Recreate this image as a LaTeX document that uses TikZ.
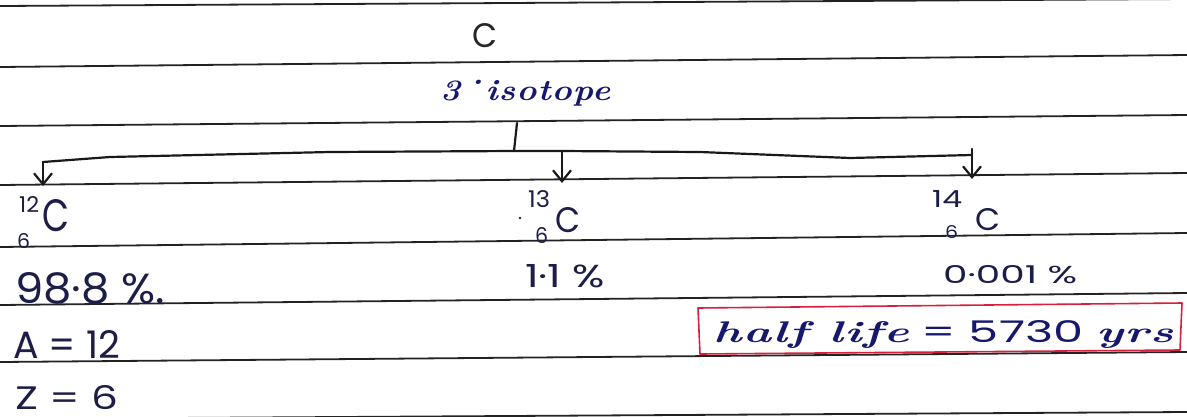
\documentclass[tikz,border=0pt]{standalone}
\usepackage{fontspec}
\usetikzlibrary{arrows.meta,calc}
\newfontfamily\hand{Poppins}
\newfontfamily\cursive[LetterSpace=3]{Latin Modern Roman}
\definecolor{ink}{RGB}{28,30,72}
\definecolor{blueink}{RGB}{22,24,110}
\definecolor{rule}{RGB}{35,35,35}
\definecolor{redink}{RGB}{214,32,62}
\newcommand\hw[3]{\resizebox{#1}{#2}{#3}}
\tikzset{
  txt/.style={inner sep=0pt, anchor=base west, text=ink, font=\hand},
  ruled/.style={draw=rule, line width=1.8pt},
  bracket/.style={draw=black!90, line width=2.2pt, line join=round, line cap=round},
  arr/.style={bracket, -{Straight Barb[length=11pt,width=18pt,line width=2.2pt]}},
  redbox/.style={draw=redink, line width=1.6pt, line join=round}
}
\begin{document}
\begin{tikzpicture}[x=1pt,y=-1pt]
\useasboundingbox (0,0) rectangle (1187,416);
\fill[white] (0,0) rectangle (1187,416);
% ruled lines
\draw[ruled] (0,6) -- (1187,-1);
\draw[ruled] (0,67) -- (1187,55);
\draw[ruled] (0,126) -- (1187,115);
\draw[ruled] (0,185) -- (1187,173);
\draw[ruled] (0,247) -- (1187,233);
\draw[ruled] (0,305) -- (1187,293);
\draw[ruled] (0,362) -- (1187,352);
\draw[ruled] (0,419) -- (1187,412);
% headings
\node[txt, text=black!85] (ctop) at (472,47) {\hw{25pt}{24pt}{C}};
\node[txt, text=blueink, font=\cursive\bfseries\itshape] (iso) at (440,100) {\hw{170pt}{20pt}{3\smash{\raisebox{0.25em}{\textperiodcentered}}\kern-0.15em isotope}};
% bracket
\coordinate (stub) at (517,123);
\coordinate (j) at (514,151);
\coordinate (l) at (43,162);
\coordinate (m) at (562,151);
\coordinate (r) at (972,155);
\coordinate (rtop) at (972,149);
\coordinate (l12) at (43,186);
\coordinate (m13) at (562,183);
\coordinate (r14) at (972,179);
\draw[bracket] (stub) -- (j);
\draw[bracket] (l) -- (110,157) -- (330,152) -- (j) -- (m) -- (700,152) -- (850,158) -- (r);
\draw[arr] (l) -- (l12);
\draw[arr] (m) -- (m13);
\draw[arr] (rtop) -- (r14);
% isotopes
\node[txt] (a12) at (19,212) {\hw{20pt}{16pt}{12}};
\node[txt] (c12) at (42,231) {\hw{27pt}{32pt}{C}};
\node[txt] (z12) at (17,248) {\hw{13pt}{15pt}{6}};
\node[txt] (a13) at (528,207) {\hw{22pt}{17pt}{13}};
\node[txt] (c13) at (555,232) {\hw{25pt}{25pt}{C}};
\node[txt] (z13) at (535,243) {\hw{13pt}{16pt}{6}};
\fill[ink] (520,218) circle (1.3pt);
\node[txt] (a14) at (932,207) {\hw{30pt}{17pt}{14}};
\node[txt] (c14) at (975,230) {\hw{25pt}{22pt}{C}};
\node[txt] (z14) at (945,238) {\hw{13pt}{13pt}{6}};
% abundances
\node[txt] (p12) at (15,303) {\hw{150pt}{31pt}{98\textperiodcentered8 \%.}};
\node[txt] (p13) at (525,287) {\hw{80pt}{23pt}{1\textperiodcentered1 \%}};
\node[txt] (p14) at (943,283) {\hw{134pt}{18pt}{0\textperiodcentered001 \%}};
% A and Z
\node[txt] (anum) at (13,358) {\hw{107pt}{28pt}{A = 12}};
\node[txt] (znum) at (15,409) {\hw{103pt}{24pt}{Z = 6}};
% half life
\draw[redbox] (698,308) -- (1182,303) -- (1180,350) -- (700,354) -- cycle;
\node[txt, text=blueink] (half) at (713,342) {\hw{460pt}{22pt}{{\cursive\bfseries\itshape half life} = 5730 {\cursive\bfseries\itshape yrs}}};
\end{tikzpicture}
\end{document}
